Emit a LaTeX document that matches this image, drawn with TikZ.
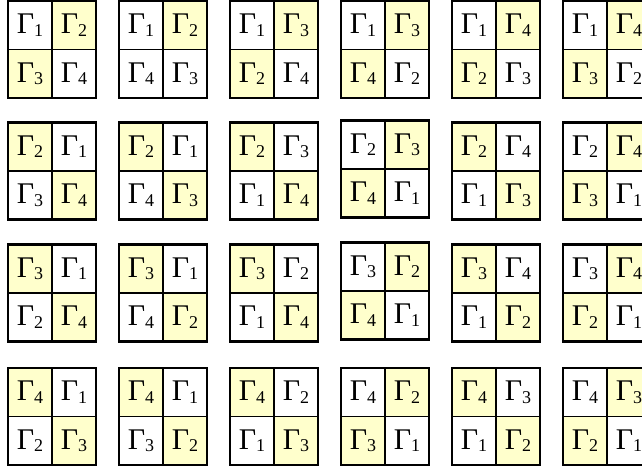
\documentclass[tikz,border=0pt]{standalone}
\usepackage{fontspec}
\setmainfont{Liberation Serif}
\newfontfamily\gammafont{Liberation Serif}
\definecolor{Y}{HTML}{FFFFCC}
\definecolor{W}{HTML}{FFFFFF}
\tikzset{
  cell/.style={draw=black, line width=1.2pt, minimum width=44pt, minimum height=48.5pt,
    inner sep=0pt, outer sep=0pt, anchor=north west, font=\gammafont\fontsize{30}{30}\selectfont},
  gridframe/.style={draw=black, line width=2.2pt},
}
\newcommand\gam[1]{Γ\raisebox{-2.5pt}{\fontsize{18}{18}\selectfont #1}}
\begin{document}
\begin{tikzpicture}[x=1pt,y=-1pt]
\useasboundingbox (0,0) rectangle (642,466);
\foreach \r/\c/\o/\a/\b/\e/\d/\fa/\fb/\fe/\fd in {
 0/0/0/1/2/3/4/W/Y/Y/W, 0/1/0/1/2/4/3/W/Y/W/W, 0/2/0/1/3/2/4/W/Y/Y/W,
 0/3/0/1/3/4/2/W/Y/Y/W, 0/4/0/1/4/2/3/W/Y/Y/W, 0/5/0/1/4/3/2/W/Y/Y/W,
 1/0/0/2/1/3/4/Y/W/W/Y, 1/1/0/2/1/4/3/Y/W/W/Y, 1/2/0/2/3/1/4/Y/W/W/Y,
 1/3/-2/2/3/4/1/W/Y/Y/W, 1/4/0/2/4/1/3/Y/W/W/Y, 1/5/0/2/4/3/1/W/Y/Y/W,
 2/0/0/3/1/2/4/Y/W/W/Y, 2/1/0/3/1/4/2/Y/W/W/Y, 2/2/0/3/2/1/4/Y/W/W/Y,
 2/3/-2/3/2/4/1/W/Y/Y/W, 2/4/0/3/4/1/2/Y/W/W/Y, 2/5/0/3/4/2/1/W/Y/Y/W,
 3/0/0/4/1/2/3/Y/W/W/Y, 3/1/0/4/1/3/2/Y/W/W/Y, 3/2/0/4/2/1/3/Y/W/W/Y,
 3/3/0/4/2/3/1/W/Y/Y/W, 3/4/0/4/3/1/2/Y/W/W/Y, 3/5/0/4/3/2/1/W/Y/Y/W}
{
  \pgfmathsetmacro\X{8+111*\c}
  \pgfmathsetmacro\Y{{1,122.5,244.5,368}[\r]+\o}
  \node[cell, fill=\fa] (g\r\c-a) at (\X,\Y) {\gam{\a}};
  \node[cell, fill=\fb] (g\r\c-b) at (\X+44,\Y) {\gam{\b}};
  \node[cell, fill=\fe] (g\r\c-c) at (\X,\Y+48.5) {\gam{\e}};
  \node[cell, fill=\fd] (g\r\c-d) at (\X+44,\Y+48.5) {\gam{\d}};
  \draw[gridframe] (g\r\c-a.north west) rectangle (g\r\c-d.south east);
}
\end{tikzpicture}
\end{document}
